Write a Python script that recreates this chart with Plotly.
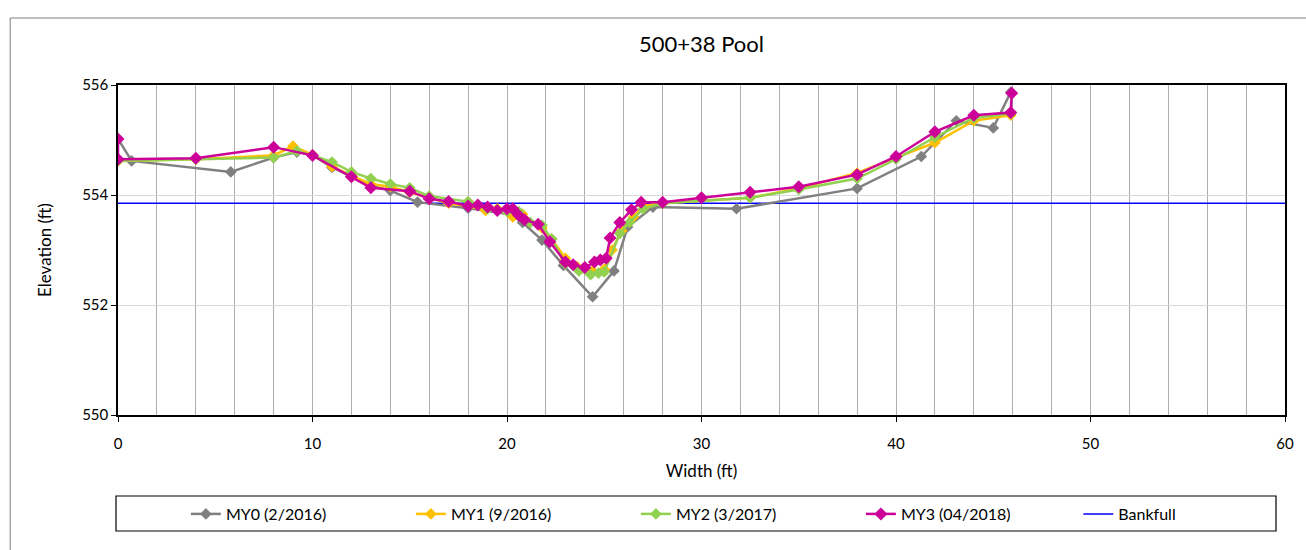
import plotly.graph_objects as go

# ---- data ----
my0_x = [0, 0.7, 5.8, 8.0, 9.2, 10.0, 11.0, 12.0, 13.0, 14.0, 15.4, 18.0, 20.2, 20.8, 21.8, 22.9, 24.4, 25.5, 26.2, 27.5, 31.8, 38.0, 41.3, 43.1, 45.0, 45.9]
my0_y = [555.02, 554.62, 554.42, 554.68, 554.78, 554.73, 554.5, 554.33, 554.17, 554.08, 553.87, 553.76, 553.65, 553.5, 553.18, 552.72, 552.15, 552.62, 553.42, 553.78, 553.75, 554.12, 554.7, 555.35, 555.22, 555.87]

my1_x = [0, 4, 8, 9, 10, 11, 12, 13, 14, 15, 16, 17, 18, 18.9, 19.5, 20.3, 20.8, 21.8, 22.3, 23.0, 23.6, 24.4, 25.0, 25.4, 25.9, 26.5, 27.0, 28.0, 32.5, 35, 38, 40, 42, 44, 45.9]
my1_y = [554.62, 554.65, 554.72, 554.89, 554.73, 554.52, 554.35, 554.2, 554.15, 554.05, 553.95, 553.85, 553.8, 553.72, 553.75, 553.6, 553.65, 553.4, 553.2, 552.85, 552.7, 552.62, 552.65, 553.0, 553.35, 553.6, 553.8, 553.85, 553.95, 554.12, 554.4, 554.68, 554.95, 555.35, 555.45]

my2_x = [0, 4, 8, 9.2, 10, 11, 12, 13, 14, 15, 16, 18, 19, 20, 20.6, 21.2, 21.8, 22.3, 23.0, 23.7, 24.3, 24.7, 25.0, 25.8, 26.3, 27.0, 28.0, 32.5, 35, 38, 40, 42, 44, 45.9]
my2_y = [554.62, 554.65, 554.68, 554.8, 554.72, 554.6, 554.42, 554.3, 554.2, 554.13, 553.98, 553.88, 553.75, 553.7, 553.7, 553.5, 553.45, 553.2, 552.75, 552.62, 552.55, 552.58, 552.6, 553.3, 553.5, 553.75, 553.85, 553.95, 554.1, 554.3, 554.65, 555.05, 555.4, 555.48]

my3_x = [0, 0, 4, 8, 10, 12, 13, 15, 16, 17, 18, 18.5, 19, 19.5, 20, 20.3, 20.6, 20.9, 21.6, 22.2, 23.0, 23.4, 24.0, 24.5, 24.8, 25.1, 25.3, 25.8, 26.4, 26.9, 28, 30, 32.5, 35, 38, 40, 42, 44, 45.9, 45.95]
my3_y = [555.02, 554.65, 554.67, 554.87, 554.72, 554.33, 554.13, 554.07, 553.93, 553.88, 553.8, 553.82, 553.78, 553.72, 553.75, 553.75, 553.63, 553.55, 553.47, 553.15, 552.78, 552.73, 552.68, 552.78, 552.82, 552.85, 553.22, 553.5, 553.73, 553.87, 553.87, 553.95, 554.05, 554.15, 554.37, 554.7, 555.15, 555.45, 555.5, 555.85]

bankfull_x = [0, 60]
bankfull_y = [553.85, 553.85]

series_names = ["MY0 (2/2016)", "MY1 (9/2016)", "MY2 (3/2017)", "MY3 (04/2018)", "Bankfull"]

FONT = "Lato"

fig = go.Figure()

fig.add_trace(go.Scatter(x=bankfull_x, y=bankfull_y, mode="lines", name=series_names[4],
                         line=dict(color="#0000FF", width=1.5), legend="legend2"))

specs = [
    (my0_x, my0_y, series_names[0], "#808080", 9, 1),
    (my1_x, my1_y, series_names[1], "#FFC000", 9, 2),
    (my2_x, my2_y, series_names[2], "#92D050", 9, 3),
    (my3_x, my3_y, series_names[3], "#CC0099", 10, 4),
]
for xs, ys, nm, col, ms, rk in specs:
    fig.add_trace(go.Scatter(x=xs, y=ys, mode="lines+markers", name=nm,
                             line=dict(color=col, width=2.5),
                             marker=dict(symbol="diamond", size=ms, color=col),
                             legendrank=rk, legend="legend"))

L, R, T, B = 118, 19, 85, 135
W, H = 1306, 550
pw, ph = W - L - R, H - T - B

def px2paper_x(px):
    return (px - L) / pw

def px2paper_y(py):
    return (H - B - py) / ph

leg_common = dict(orientation="h", xanchor="left", y=px2paper_y(514), yanchor="middle",
                  font=dict(family=FONT, size=16), bgcolor="rgba(0,0,0,0)",
                  traceorder="normal")

fig.update_layout(
    width=W, height=H,
    margin=dict(l=L, r=R, t=T, b=B),
    paper_bgcolor="white", plot_bgcolor="white",
    font=dict(family=FONT, size=15, color="#000000"),
    title=dict(text="500+38 Pool", x=0.5, xref="paper", xanchor="center",
               y=1 - 44 / H, yanchor="middle", font=dict(family=FONT, size=22)),
    showlegend=True,
    legend=dict(x=px2paper_x(186), entrywidth=180, entrywidthmode="pixels", **leg_common),
    legend2=dict(x=px2paper_x(1080), **leg_common),
    shapes=[
        dict(type="rect", xref="paper", yref="paper",
             x0=px2paper_x(10), x1=px2paper_x(1320),
             y0=px2paper_y(570), y1=px2paper_y(18),
             line=dict(color="#7f7f7f", width=1), fillcolor="rgba(0,0,0,0)", layer="below"),
        dict(type="rect", xref="paper", yref="paper",
             x0=px2paper_x(116), x1=px2paper_x(1278),
             y0=px2paper_y(531), y1=px2paper_y(496),
             line=dict(color="#000000", width=1.2), fillcolor="rgba(0,0,0,0)"),
    ],
)

fig.update_xaxes(
    range=[0, 60], tickmode="linear", tick0=0, dtick=10,
    showgrid=True, gridcolor="#ADADAD", gridwidth=1,
    minor=dict(dtick=2, showgrid=True, gridcolor="#ADADAD", gridwidth=1, ticks=""),
    showline=True, linecolor="#000000", linewidth=1.5, mirror=True,
    ticks="outside", ticklen=5, tickcolor="#000000",
    ticklabelstandoff=9,
    zeroline=False,
    title=dict(text="Width (ft)", font=dict(family=FONT, size=17), standoff=14),
    tickfont=dict(family=FONT, size=15),
)
fig.update_yaxes(
    range=[550, 556], tickmode="linear", tick0=550, dtick=2,
    showgrid=True, gridcolor="#D9D9D9", gridwidth=1,
    showline=True, linecolor="#000000", linewidth=1.5, mirror=True,
    ticks="outside", ticklen=5, tickcolor="#000000",
    zeroline=False,
    title=dict(text="Elevation (ft)", font=dict(family=FONT, size=17), standoff=26),
    tickfont=dict(family=FONT, size=15),
)

fig.write_html("out.html", config={"displayModeBar": False},
               post_script="document.body.style.margin='0';document.body.style.overflow='hidden';")
